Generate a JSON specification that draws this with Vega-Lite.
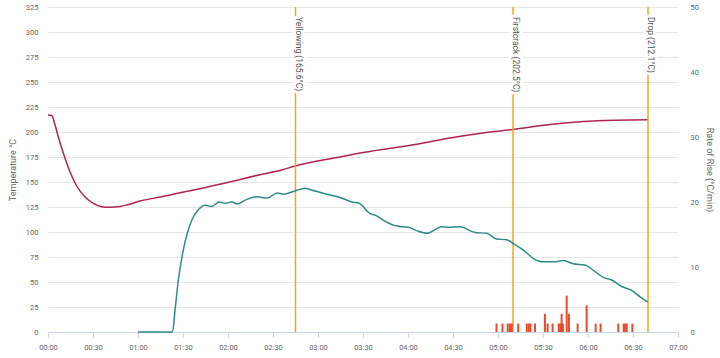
{
  "$schema": "https://vega.github.io/schema/vega-lite/v6.json",
  "width": 630,
  "height": 325,
  "autosize": "none",
  "padding": {"left": 48, "top": 7, "right": 42, "bottom": 26},
  "config": {
    "view": {"stroke": null},
    "font": "Roboto",
    "axis": {"labelColor": "#666666", "titleColor": "#666666", "titleFontWeight": "normal", "labelFontSize": 7.5, "titleFontSize": 9}
  },
  "datasets": {
    "bt": [
      {"t": 0, "bt": 217}, {"t": 2.5, "bt": 216.5}, {"t": 4.7, "bt": 207}, {"t": 6.9, "bt": 195},
      {"t": 10.2, "bt": 179}, {"t": 14.7, "bt": 160}, {"t": 19.1, "bt": 146}, {"t": 24.7, "bt": 135},
      {"t": 30.2, "bt": 128.7}, {"t": 35.8, "bt": 125.3}, {"t": 41.3, "bt": 124.7}, {"t": 48, "bt": 125.5},
      {"t": 52.5, "bt": 127}, {"t": 61.3, "bt": 131}, {"t": 75, "bt": 135}, {"t": 94.7, "bt": 141.3},
      {"t": 119, "bt": 149.3}, {"t": 141.3, "bt": 157.3}, {"t": 155.8, "bt": 162}, {"t": 164.7, "bt": 166},
      {"t": 194.7, "bt": 175}, {"t": 210.2, "bt": 179.5}, {"t": 245.8, "bt": 187.7}, {"t": 268, "bt": 194},
      {"t": 290, "bt": 199}, {"t": 310, "bt": 202.5}, {"t": 334.7, "bt": 207.5}, {"t": 357, "bt": 210.5},
      {"t": 379, "bt": 211.8}, {"t": 400, "bt": 212.3}
    ],
    "ror": [
      {"t": 60, "r": 0}, {"t": 83, "r": 0}, {"t": 84.7, "r": 3.4}, {"t": 86.9, "r": 8}, {"t": 90.2, "r": 12.6},
      {"t": 95.8, "r": 17.2}, {"t": 100.2, "r": 18.8}, {"t": 104.7, "r": 19.5}, {"t": 109.1, "r": 19.3},
      {"t": 114.2, "r": 20.0}, {"t": 118, "r": 19.8}, {"t": 122.5, "r": 20.0}, {"t": 126.2, "r": 19.7},
      {"t": 132.5, "r": 20.4}, {"t": 139.1, "r": 20.8}, {"t": 146.2, "r": 20.6}, {"t": 152.9, "r": 21.4},
      {"t": 156.9, "r": 21.2}, {"t": 164.7, "r": 21.7}, {"t": 171.3, "r": 22.1}, {"t": 178, "r": 21.7},
      {"t": 185.8, "r": 21.2}, {"t": 194.7, "r": 20.7}, {"t": 202.5, "r": 20.0}, {"t": 207.5, "r": 19.8},
      {"t": 214.2, "r": 18.3}, {"t": 218.7, "r": 17.9}, {"t": 224.2, "r": 17.1}, {"t": 232.5, "r": 16.3},
      {"t": 240.2, "r": 16.1}, {"t": 245.8, "r": 15.6}, {"t": 252.9, "r": 15.2}, {"t": 262.5, "r": 16.2},
      {"t": 268, "r": 16.1}, {"t": 274.7, "r": 16.2}, {"t": 284.7, "r": 15.3}, {"t": 292.5, "r": 15.2},
      {"t": 299.1, "r": 14.3}, {"t": 305.8, "r": 14.2}, {"t": 310.2, "r": 13.6}, {"t": 316.9, "r": 12.6},
      {"t": 323.6, "r": 11.3}, {"t": 330.2, "r": 10.8}, {"t": 336.9, "r": 10.8}, {"t": 343.6, "r": 11.0},
      {"t": 350.2, "r": 10.5}, {"t": 358, "r": 10.3}, {"t": 363.6, "r": 9.5}, {"t": 370.2, "r": 8.4},
      {"t": 375.8, "r": 8.0}, {"t": 382.5, "r": 7.0}, {"t": 389.1, "r": 6.4}, {"t": 394.7, "r": 5.4},
      {"t": 399.8, "r": 4.6}
    ],
    "bars": [
      {"t": 299, "r": 1.3}, {"t": 303, "r": 1.3}, {"t": 306.5, "r": 1.3}, {"t": 308, "r": 1.3},
      {"t": 309.2, "r": 1.3}, {"t": 313.5, "r": 1.3}, {"t": 319.2, "r": 1.3}, {"t": 320.5, "r": 1.3},
      {"t": 321.6, "r": 1.3}, {"t": 324.7, "r": 1.3}, {"t": 331.3, "r": 2.8}, {"t": 333.1, "r": 1.3},
      {"t": 336.4, "r": 1.3}, {"t": 340.5, "r": 1.3}, {"t": 341.5, "r": 1.3}, {"t": 342.4, "r": 2.8},
      {"t": 343.3, "r": 1.3}, {"t": 345.8, "r": 5.6}, {"t": 347.3, "r": 2.8}, {"t": 353.1, "r": 1.3},
      {"t": 359.1, "r": 4.1}, {"t": 365.1, "r": 1.3}, {"t": 368.4, "r": 1.3}, {"t": 380.2, "r": 1.3},
      {"t": 383.8, "r": 1.3}, {"t": 384.8, "r": 1.3}, {"t": 385.8, "r": 1.3}, {"t": 389.6, "r": 1.3}
    ],
    "events": [
      {"t": 165, "label": "Yellowing (165.6°C)"},
      {"t": 310, "label": "Firstcrack (202.5°C)"},
      {"t": 400, "label": "Drop (212.1°C)"}
    ]
  },
  "encoding": {
    "x": {
      "field": "t",
      "type": "quantitative",
      "scale": {"domain": [0, 420], "nice": false, "zero": false, "padding": 0},
      "axis": {
        "title": null,
        "values": [0, 30, 60, 90, 120, 150, 180, 210, 240, 270, 300, 330, 360, 390, 420],
        "labelExpr": "utcFormat(datum.value * 1000, '%M:%S')",
        "grid": false,
        "domainColor": "#ccd6eb",
        "tickColor": "#ccd6eb",
        "tickSize": 5,
        "labelPadding": 6,
        "labelFlush": false,
        "labelOverlap": false
      }
    }
  },
  "layer": [
    {
      "encoding": {
        "y": {
          "type": "quantitative",
          "scale": {"domain": [0, 325], "nice": false},
          "axis": {
            "orient": "left",
            "title": "Temperature °C",
            "values": [0, 25, 50, 75, 100, 125, 150, 175, 200, 225, 250, 275, 300, 325],
            "domain": false,
            "ticks": false,
            "grid": true,
            "gridColor": "#e6e6e6",
            "labelPadding": 10,
            "titlePadding": 8
          }
        }
      },
      "layer": [
        {
          "data": {"name": "bt"},
          "mark": {"type": "line", "color": "#ad2650", "strokeWidth": 1.5, "interpolate": "monotone"},
          "encoding": {"y": {"field": "bt", "type": "quantitative"}}
        },
        {
          "data": {"name": "events"},
          "mark": {"type": "rule", "color": "#f9a31b", "strokeWidth": 1.5},
          "encoding": {}
        },
        {
          "data": {"name": "events"},
          "mark": {"type": "text", "angle": 90, "align": "left", "baseline": "alphabetic", "fontSize": 8.5, "fill": "white", "stroke": "white", "strokeWidth": 6, "strokeJoin": "round"},
          "encoding": {"y": {"datum": 315}, "text": {"field": "label"}}
        },
        {
          "data": {"name": "events"},
          "mark": {"type": "text", "angle": 90, "align": "left", "baseline": "alphabetic", "fontSize": 8.5, "fill": "#555555"},
          "encoding": {"y": {"datum": 315}, "text": {"field": "label"}}
        }
      ]
    },
    {
      "encoding": {
        "y": {
          "field": "r",
          "type": "quantitative",
          "scale": {"domain": [0, 50], "nice": false},
          "axis": {
            "orient": "right",
            "title": "Rate of Rise (°C/min)",
            "values": [0, 10, 20, 30, 40, 50],
            "domain": false,
            "ticks": false,
            "grid": false,
            "labelPadding": 12,
            "titlePadding": 6
          }
        }
      },
      "layer": [
        {
          "data": {"name": "bars"},
          "mark": {"type": "bar", "width": 2, "color": "#e84c2b"}
        },
        {
          "data": {"name": "ror"},
          "mark": {"type": "line", "color": "#2e8b84", "strokeWidth": 1.5, "interpolate": "monotone"}
        }
      ]
    }
  ],
  "resolve": {"scale": {"y": "independent"}, "axis": {"y": "independent"}}
}
